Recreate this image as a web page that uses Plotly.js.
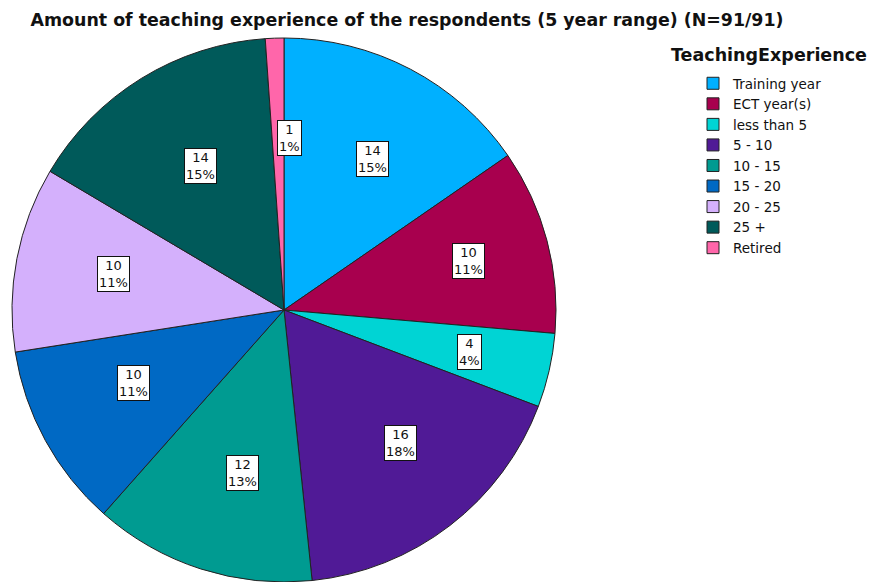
<!DOCTYPE html>
<html>
<head>
<meta charset="utf-8">
<script src="https://cdn.plot.ly/plotly-3.0.1.min.js"></script>
<style>
  body { margin: 0; background: #fff; }
  #chart { width: 869px; height: 582px; }
</style>
</head>
<body>
<div id="chart"></div>
<script>
// data
var categories = ["Training year", "ECT year(s)", "less than 5", "5 - 10", "10 - 15", "15 - 20", "20 - 25", "25 +", "Retired"];
var counts = [14, 10, 4, 16, 12, 10, 10, 14, 1];
var colours = ["rgb(0,176,255)", "rgb(168,0,78)", "rgb(0,212,212)", "rgb(80,26,150)", "rgb(0,155,145)", "rgb(0,105,196)", "rgb(212,176,252)", "rgb(0,90,90)", "rgb(255,102,170)"];

var W = 869, H = 582;
var mL = 12, mR = 0, mT = 38, mB = 0;
var plotW = W - mL - mR, plotH = H - mT - mB;
var domX = plotH / plotW;   // square domain so the pie fills the height

var total = counts.reduce(function(a, b){ return a + b; }, 0);

var trace = {
    type: 'pie',
    labels: categories,
    values: counts,
    sort: false,
    direction: 'clockwise',
    rotation: 0,
    textinfo: 'none',
    hoverinfo: 'label+value+percent',
    marker: { colors: colours, line: { color: '#222', width: 1 } },
    domain: { x: [0, domX], y: [0, 1] }
};

// boxed count / percent labels, placed on each slice's middle angle
var annotations = [];
var cum = 0;
var cx = domX / 2, cy = 0.5, rx = domX / 2, ry = 0.5;
for (var i = 0; i < counts.length; i++) {
    var mid = (cum + counts[i] / 2) / total * 2 * Math.PI;
    cum += counts[i];
    var f = 0.70;
    annotations.push({
        xref: 'paper', yref: 'paper',
        x: cx + f * rx * Math.sin(mid),
        y: cy + f * ry * Math.cos(mid),
        text: counts[i] + '<br>' + Math.round(counts[i] / total * 100) + '%',
        showarrow: false,
        font: { family: 'DejaVu Sans', size: 13, color: '#111' },
        bgcolor: '#fff',
        bordercolor: '#111',
        borderwidth: 1,
        borderpad: 1
    });
}

// legend title as a separate text so the items can sit indented
annotations.push({
    xref: 'paper', yref: 'paper',
    x: (669 - mL) / plotW, y: 1 - (55 - mT) / plotH,
    xanchor: 'left', yanchor: 'middle',
    text: '<b>TeachingExperience</b>',
    showarrow: false,
    font: { family: 'DejaVu Sans', size: 17.5, color: '#111' }
});

var layout = {
    width: W,
    height: H,
    margin: { l: mL, r: mR, t: mT, b: mB },
    title: {
        text: '<b>Amount of teaching experience of the respondents (5 year range) (N=91/91)</b>',
        font: { family: 'DejaVu Sans', size: 17.4, color: '#111' },
        xref: 'container', yref: 'container',
        x: 407 / W, xanchor: 'center',
        y: 1 - 20 / H, yanchor: 'middle'
    },
    showlegend: true,
    legend: {
        x: (693 - mL) / plotW, xanchor: 'left',
        y: 1 - (68 - mT) / plotH, yanchor: 'top',
        font: { family: 'DejaVu Sans', size: 13.5, color: '#111' },
        tracegroupgap: 0,
        itemwidth: 30,
        bgcolor: 'rgba(0,0,0,0)'
    },
    annotations: annotations,
    paper_bgcolor: '#fff'
};

Plotly.newPlot('chart', [trace], layout, {displayModeBar: false});
</script>
</body>
</html>
